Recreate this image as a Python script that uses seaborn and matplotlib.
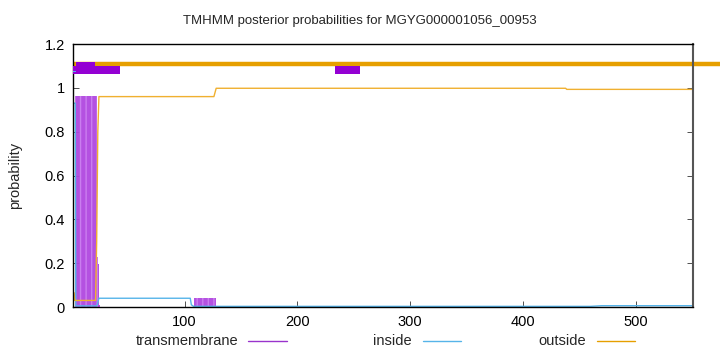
import numpy as np
import matplotlib
matplotlib.use("Agg")
import matplotlib.pyplot as plt
import seaborn as sns
from matplotlib.lines import Line2D

# posterior probabilities (breakpoints)
tm_pos = [1, 3, 22, 23, 24, 25, 108, 128, 440, 460, 551]
tm_val = [0.0, 0.965, 0.227, 0.196, 0.01, 0.0, 0.04, 0.0, 0.003, 0.0, 0.0]

inside_pos = [1, 3, 3.5, 22, 23, 24, 105, 106, 108, 460, 470, 551]
inside_val = [0.93, 0.93, 0.005, 0.005, 0.02, 0.04, 0.04, 0.01, 0.003, 0.003, 0.006, 0.006]

outside_pos = [1, 2, 2.5, 21, 22, 23, 24, 126, 128, 438, 439, 551]
outside_val = [0.065, 0.065, 0.03, 0.03, 0.3, 0.8, 0.96, 0.96, 0.998, 0.998, 0.993, 0.993]

# predicted topology shown above the curves
tm_regions = [(1.4, 40.9), (233, 23)]
tm_core = [(3.8, 16.9)]
inside_regions = [(1, 2.5)]
outside_span = [1, 600]

title = "TMHMM posterior probabilities for MGYG000001056_00953"
labels = ["transmembrane", "inside", "outside"]
c_tm = "#9400d3"
c_tm_fill = "#b048e0"
c_in = "#56b4e9"
c_out = "#e69f00"

sns.set_style("white")
plt.rcParams["font.family"] = ["Liberation Sans", "DejaVu Sans"]

fig = plt.figure(figsize=(7.2, 3.52), dpi=100)
ax = fig.add_axes([0.1014, 0.1278, 0.8611, 0.7472])

# transmembrane probability as impulses
ax.fill_between(tm_pos, tm_val, step="post", color=c_tm_fill, hatch="|||",
                edgecolor="#cc80f0", linewidth=0, alpha=0.95)
sns.lineplot(x=inside_pos, y=inside_val, ax=ax, color=c_in, linewidth=1, sort=False)
sns.lineplot(x=outside_pos, y=outside_val, ax=ax, color="#f0b030", linewidth=1, sort=False)

# topology bar
ax.plot(outside_span, [1.11, 1.11], color=c_out, linewidth=3.2, clip_on=False,
        solid_capstyle="butt")
ax.broken_barh(tm_regions, (1.063, 0.038), facecolors=c_tm, linewidth=0, zorder=3)
ax.broken_barh(tm_core, (1.095, 0.022), facecolors=c_tm, linewidth=0, zorder=3)
ax.broken_barh(inside_regions, (1.07, 0.008), facecolors=c_in, linewidth=0, zorder=3)

ax.set_xlim(1, 551)
ax.set_ylim(0, 1.2)
ax.set_xticks([100, 200, 300, 400, 500])
ax.set_yticks([0, 0.2, 0.4, 0.6, 0.8, 1.0, 1.2])
ax.set_yticklabels(["0", "0.2", "0.4", "0.6", "0.8", "1", "1.2"])
ax.tick_params(direction="in", length=4, width=0.6, labelsize=10.5, colors="#333333",
               labelcolor="black", pad=6, bottom=True, left=True, right=True)
ax.set_ylabel("probability", fontsize=10.5, labelpad=16)
for s in ax.spines.values():
    s.set_color("black")
    s.set_linewidth(1)
ax.spines["right"].set_color("#555555")
ax.spines["right"].set_linewidth(1.5)

fig.text(0.5, 0.94, title, ha="center", va="center", fontsize=9.5)

# legend in gnuplot style: text then sample line
leg_text_x = [238, 412, 586]
leg_line_x = [(248, 287), (423, 461), (597, 635)]
leg_colors = ["#9933cc", c_in, c_out]
for lab, tx, (l0, l1), col in zip(labels, leg_text_x, leg_line_x, leg_colors):
    fig.text(tx / 720, 1 - 341 / 352, lab, ha="right", va="center", fontsize=10.5)
    fig.add_artist(Line2D([l0 / 720, l1 / 720], [1 - 341 / 352] * 2, color=col,
                          linewidth=1, transform=fig.transFigure))

fig.savefig("out.png", dpi=100)
